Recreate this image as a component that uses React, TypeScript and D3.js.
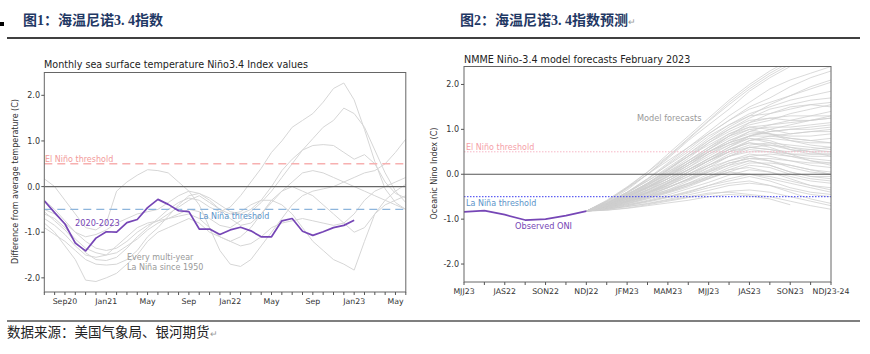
import React from 'react';
import * as d3 from 'd3';

// ---------- Left chart data (months from Jul 2020 = index 0) ----------
const leftTickIdx = [2, 6, 10, 14, 18, 22, 26, 30, 34];
const leftTickLabels = ['Sep20', 'Jan21', 'May', 'Sep', 'Jan22', 'May', 'Sep', 'Jan23', 'May'];
const leftYTicks = [-2, -1, 0, 1, 2];

const nino2020to2023 = [
  -0.31, -0.57, -0.82, -1.24, -1.41, -1.13, -0.99, -1.0, -0.79, -0.72, -0.46,
  -0.28, -0.39, -0.53, -0.55, -0.93, -0.93, -1.05, -0.95, -0.89, -0.97, -1.1,
  -1.1, -0.75, -0.7, -0.98, -1.07, -0.99, -0.9, -0.85, -0.74,
];

const multiYearLaNina = [
  [-0.55, -0.75, -0.95, -1.2, -1.45, -1.6, -1.62, -1.55, -1.35, -1.1, -0.9, -0.7, -0.5, -0.35, -0.25, -0.3, -0.45, -0.55, -0.45, -0.2, 0.1, 0.4, 0.75, 1.0, 1.3, 1.45, 1.6, 1.85, 2.15, 2.27, 1.9, 1.25, 0.55, -0.05, -0.35, -0.5],
  [-0.7, -0.85, -1.05, -1.3, -1.5, -1.55, -1.5, -1.3, -1.1, -0.9, -0.8, -0.75, -0.7, -0.6, -0.5, -0.55, -0.7, -0.85, -0.9, -0.75, -0.55, -0.35, -0.1, 0.2, 0.5, 0.8, 1.05, 1.3, 1.45, 1.72, 1.6, 1.3, 0.8, 0.3, -0.1, -0.35],
  [0.17, 0.0, -0.3, -0.6, -0.9, -0.95, -0.8, -0.1, 0.1, 0.25, 0.37, 0.35, 0.3, 0.1, -0.1, -0.4, -0.9, -1.4, -1.7, -1.75, -1.6, -1.3, -1.0, -0.7, -0.4, -0.2, -0.1, -0.05, 0.0, 0.1, 0.2, 0.3, 0.35, 0.5, 0.75, 1.04],
  [-0.8, -1.0, -1.3, -1.6, -2.05, -2.08, -2.0, -1.9, -1.7, -1.5, -1.2, -1.0, -0.9, -0.8, -0.7, -0.8, -1.0, -1.1, -1.2, -1.1, -0.9, -0.6, -0.3, -0.1, 0.0, -0.1, -0.2, -0.4, -0.6, -0.8, -1.0, -0.9, -0.6, -0.4, -0.3, -0.2],
  [-0.5, -0.6, -0.8, -1.0, -1.1, -1.05, -0.95, -0.8, -0.7, -0.6, -0.55, -0.5, -0.35, -0.2, -0.1, -0.15, -0.3, -0.5, -0.6, -0.55, -0.4, -0.3, -0.3, -0.4, -0.6, -0.9, -1.2, -1.4, -1.6, -1.7, -1.83, -1.2, -0.6, -0.3, -0.1, 0.05],
  [-0.6, -0.7, -0.9, -1.15, -1.35, -1.45, -1.5, -1.45, -1.3, -1.15, -0.95, -0.8, -0.7, -0.65, -0.6, -0.7, -0.9, -1.1, -1.2, -1.3, -1.25, -1.1, -0.9, -0.8, -0.75, -0.7, -0.75, -0.8, -0.85, -0.8, -0.6, -0.3, -0.1, 0.0, 0.1, 0.2],
  [-0.9, -1.05, -1.2, -1.4, -1.6, -1.7, -1.72, -1.7, -1.6, -1.4, -1.1, -0.9, -0.65, -0.4, -0.2, -0.15, -0.25, -0.4, -0.55, -0.6, -0.5, -0.3, 0.0, 0.35, 0.6, 0.8, 0.9, 0.92, 0.9, 0.75, 0.6, 0.7, 0.5, 0.1, -0.15, -0.25],
  [-0.3, -0.5, -0.75, -1.0, -1.2, -1.35, -1.4, -1.35, -1.2, -1.0, -0.85, -0.75, -0.6, -0.45, -0.3, -0.2, -0.35, -0.5, -0.7, -0.85, -0.8, -0.6, -0.35, -0.1, 0.1, 0.3, 0.35, 0.3, 0.2, 0.1, 0.0, -0.1, -0.2, -0.3, -0.4, -0.5],
];

// ---------- Right chart data (seasons from MJJ 2022 = index 0) ----------
const rightTickIdx = [0, 2, 4, 6, 8, 10, 12, 14, 16, 18];
const rightTickLabels = ['MJJ23', 'JAS22', 'SON22', 'NDJ22', 'JFM23', 'MAM23', 'MJJ23', 'JAS23', 'SON23', 'NDJ23-24'];
const rightYTicks = [-2, -1, 0, 1, 2];
const observedONI = [-0.84, -0.81, -0.9, -1.02, -1.0, -0.92, -0.82];
const forecastStart = 6;
const modelForecasts = [
  [-0.82, -0.6, -0.3, 0.05, 0.45, 0.85, 1.25, 1.65, 2.0, 2.3, 2.55, 2.7, 2.8],
  [-0.82, -0.62, -0.35, 0.0, 0.35, 0.75, 1.1, 1.45, 1.85, 2.15, 2.4, 2.55, 2.6],
  [-0.82, -0.65, -0.4, -0.1, 0.25, 0.6, 0.95, 1.3, 1.6, 1.9, 2.1, 2.25, 2.4],
  [-0.82, -0.6, -0.3, 0.0, 0.3, 0.6, 0.9, 1.2, 1.45, 1.6, 1.75, 1.9, 2.05],
  [-0.82, -0.66, -0.45, -0.2, 0.1, 0.45, 0.8, 1.1, 1.35, 1.5, 1.65, 1.75, 1.85],
  [-0.82, -0.7, -0.5, -0.25, 0.05, 0.35, 0.7, 1.0, 1.25, 1.45, 1.55, 1.65, 1.7],
  [-0.82, -0.64, -0.4, -0.1, 0.2, 0.5, 0.85, 1.1, 1.3, 1.35, 1.45, 1.55, 1.6],
  [-0.82, -0.68, -0.5, -0.3, -0.05, 0.25, 0.55, 0.85, 1.15, 1.35, 1.5, 1.55, 1.5],
  [-0.82, -0.7, -0.55, -0.35, -0.1, 0.2, 0.5, 0.75, 0.95, 1.1, 1.2, 1.3, 1.4],
  [-0.82, -0.72, -0.55, -0.35, -0.15, 0.1, 0.35, 0.6, 0.85, 1.0, 1.1, 1.2, 1.25],
  [-0.82, -0.66, -0.45, -0.2, 0.05, 0.3, 0.55, 0.8, 1.0, 1.05, 1.05, 1.1, 1.15],
  [-0.82, -0.7, -0.5, -0.3, -0.1, 0.15, 0.4, 0.65, 0.85, 0.95, 1.0, 1.0, 1.05],
  [-0.82, -0.68, -0.48, -0.28, -0.05, 0.2, 0.5, 0.75, 0.9, 0.9, 0.85, 0.85, 0.9],
  [-0.82, -0.74, -0.6, -0.45, -0.25, 0.0, 0.25, 0.5, 0.75, 0.85, 0.9, 0.95, 0.95],
  [-0.82, -0.7, -0.52, -0.32, -0.1, 0.15, 0.45, 0.7, 0.95, 0.9, 0.8, 0.75, 0.8],
  [-0.82, -0.72, -0.58, -0.4, -0.2, 0.05, 0.3, 0.55, 0.75, 0.8, 0.75, 0.7, 0.7],
  [-0.82, -0.66, -0.45, -0.25, 0.0, 0.3, 0.6, 0.85, 1.0, 0.9, 0.75, 0.65, 0.6],
  [-0.82, -0.7, -0.55, -0.38, -0.18, 0.05, 0.3, 0.5, 0.65, 0.7, 0.65, 0.6, 0.55],
  [-0.82, -0.74, -0.62, -0.48, -0.3, -0.1, 0.15, 0.4, 0.6, 0.65, 0.6, 0.55, 0.5],
  [-0.82, -0.68, -0.5, -0.3, -0.1, 0.1, 0.35, 0.6, 0.8, 0.7, 0.55, 0.45, 0.45],
  [-0.82, -0.72, -0.58, -0.42, -0.25, -0.05, 0.2, 0.45, 0.6, 0.55, 0.45, 0.4, 0.4],
  [-0.82, -0.7, -0.55, -0.4, -0.2, 0.0, 0.2, 0.4, 0.55, 0.5, 0.4, 0.35, 0.3],
  [-0.82, -0.75, -0.65, -0.52, -0.38, -0.2, 0.0, 0.2, 0.4, 0.45, 0.4, 0.3, 0.25],
  [-0.82, -0.68, -0.52, -0.35, -0.15, 0.1, 0.35, 0.55, 0.7, 0.6, 0.45, 0.3, 0.2],
  [-0.82, -0.72, -0.6, -0.45, -0.3, -0.1, 0.1, 0.3, 0.45, 0.4, 0.3, 0.2, 0.15],
  [-0.82, -0.74, -0.62, -0.5, -0.35, -0.15, 0.05, 0.25, 0.35, 0.3, 0.2, 0.1, 0.05],
  [-0.82, -0.7, -0.55, -0.4, -0.25, -0.05, 0.15, 0.3, 0.4, 0.3, 0.15, 0.05, 0.0],
  [-0.82, -0.76, -0.66, -0.55, -0.42, -0.28, -0.1, 0.1, 0.25, 0.25, 0.2, 0.1, 0.0],
  [-0.82, -0.74, -0.64, -0.52, -0.4, -0.25, -0.1, 0.05, 0.2, 0.15, 0.0, -0.1, -0.15],
  [-0.82, -0.76, -0.68, -0.58, -0.46, -0.32, -0.18, -0.02, 0.1, 0.05, -0.05, -0.15, -0.2],
  [-0.82, -0.72, -0.6, -0.48, -0.35, -0.2, -0.05, 0.1, 0.15, 0.05, -0.1, -0.25, -0.3],
  [-0.82, -0.78, -0.7, -0.6, -0.5, -0.4, -0.25, -0.1, 0.0, -0.05, -0.15, -0.25, -0.35],
  [-0.82, -0.76, -0.68, -0.6, -0.5, -0.38, -0.25, -0.15, -0.05, -0.15, -0.3, -0.4, -0.45],
  [-0.82, -0.78, -0.72, -0.65, -0.56, -0.46, -0.36, -0.25, -0.2, -0.25, -0.35, -0.45, -0.5],
  [-0.82, -0.8, -0.75, -0.68, -0.6, -0.52, -0.45, -0.38, -0.35, -0.4, -0.5, -0.6, -0.7],
  [-0.82, -0.78, -0.72, -0.66, -0.58, -0.5, -0.42, -0.4, -0.45, -0.5, -0.6, -0.7, -0.78],
  [-0.82, -0.8, -0.76, -0.7, -0.64, -0.58, -0.5, -0.45, -0.48, -0.55, -0.68],
  [-0.82, -0.74, -0.62, -0.5, -0.38, -0.22, -0.08, 0.05, 0.0, -0.1, -0.2, -0.3, -0.4],
  [-0.82, -0.7, -0.56, -0.42, -0.28, -0.12, 0.05, 0.2, 0.3, 0.2, 0.05, -0.05, -0.1],
  [-0.82, -0.66, -0.48, -0.28, -0.05, 0.2, 0.45, 0.65, 0.8, 0.75, 0.6, 0.5, 0.4],
  [-0.82, -0.64, -0.44, -0.22, 0.0, 0.25, 0.5, 0.7, 0.85, 0.95, 1.0, 1.05, 1.1],
  [-0.82, -0.62, -0.4, -0.15, 0.12, 0.4, 0.7, 0.95, 1.15, 1.25, 1.3, 1.3, 1.3],
  [-0.82, -0.68, -0.5, -0.28, -0.02, 0.25, 0.5, 0.7, 0.85, 0.85, 0.8, 0.75, 0.7],
  [-0.82, -0.72, -0.58, -0.42, -0.22, 0.0, 0.2, 0.4, 0.5, 0.5, 0.45, 0.45, 0.45],
  [-0.82, -0.74, -0.62, -0.48, -0.3, -0.12, 0.08, 0.25, 0.35, 0.35, 0.3, 0.25, 0.25],
  [-0.82, -0.58, -0.28, 0.05, 0.4, 0.8, 1.2, 1.6, 1.95, 2.25, 2.5, 2.6, 2.65],
  [-0.82, -0.64, -0.42, -0.15, 0.15, 0.45, 0.75, 1.05, 1.3, 1.55, 1.75, 1.95, 2.1],
  [-0.82, -0.6, -0.32, 0.0, 0.38, 0.78, 1.18, 1.55, 1.9, 2.2, 2.45, 2.6, 2.7],
  [-0.82, -0.66, -0.42, -0.12, 0.22, 0.55, 0.9, 1.2, 1.5, 1.7, 1.95, 2.15, 2.3],
  [-0.82, -0.7, -0.48, -0.22, 0.08, 0.4, 0.75, 1.0, 1.2, 1.25, 1.2, 1.2, 1.25],
  [-0.82, -0.72, -0.52, -0.3, -0.05, 0.25, 0.55, 0.85, 1.05, 1.0, 0.9, 0.95, 1.0],
  [-0.82, -0.68, -0.46, -0.2, 0.1, 0.4, 0.65, 0.9, 1.05, 1.1, 1.15, 1.2, 1.3],
  [-0.82, -0.74, -0.6, -0.42, -0.2, 0.05, 0.3, 0.55, 0.7, 0.65, 0.55, 0.5, 0.5],
  [-0.82, -0.7, -0.54, -0.36, -0.15, 0.1, 0.3, 0.5, 0.6, 0.55, 0.5, 0.55, 0.6],
  [-0.82, -0.76, -0.66, -0.54, -0.4, -0.25, -0.05, 0.15, 0.3, 0.2, 0.05, -0.05, -0.05],
  [-0.82, -0.78, -0.7, -0.62, -0.52, -0.42, -0.3, -0.2, -0.15, -0.25, -0.4, -0.55, -0.65],
  [-0.82, -0.66, -0.46, -0.24, 0.02, 0.3, 0.6, 0.9, 1.1, 1.2, 1.35, 1.45, 1.55],
];

const FONT = 'DejaVu Sans, sans-serif';
const CJK = 'Liberation Serif, Noto Sans CJK SC, serif';

export default function App() {
  // Left chart scales
  const xL = d3.scaleLinear().domain([0, 35]).range([44.3, 405.8]);
  const yL = d3.scaleLinear().domain([-2.31, 2.5]).range([292, 72.5]);
  // Right chart scales
  const xR = d3.scaleLinear().domain([0, 18]).range([464, 831]);
  const yR = d3.scaleLinear().domain([-2.4, 2.4]).range([282, 66.5]);

  const lineL = d3.line<number>().x((_, i) => xL(i)).y((d) => yL(d));
  const lineObs = d3.line<number>().x((_, i) => xR(i)).y((d) => yR(d));
  const lineFc = d3.line<number>().x((_, i) => xR(forecastStart + i)).y((d) => yR(d));

  const [lx0, lx1] = xL.range();
  const [ly0, ly1] = [yL(2.5), yL(-2.31)];
  const [rx0, rx1] = xR.range();
  const [ry0, ry1] = [yR(2.4), yR(-2.4)];

  return (
    <svg width={870} height={354} style={{ position: 'absolute', left: 0, top: 0, background: '#fff' }}>
      <defs>
        <clipPath id="clipL"><rect x={lx0} y={ly0} width={lx1 - lx0} height={ly1 - ly0} /></clipPath>
        <clipPath id="clipR"><rect x={rx0} y={ry0} width={rx1 - rx0} height={ry1 - ry0} /></clipPath>
      </defs>

      {/* Page headings */}
      <rect x={0} y={22} width={4} height={4} fill="#000" />
      <text x={23} y={25} fontFamily={CJK} fontWeight={700} fontSize={14} fill="#1f3864">图1：海温尼诺3. 4指数</text>
      <text x={460} y={25} fontFamily={CJK} fontWeight={700} fontSize={14} fill="#1f3864">
        图2：海温尼诺3. 4指数预测<tspan fill="#999" fontSize={9} fontWeight={400}>↵</tspan>
      </text>
      <line x1={7} x2={435} y1={38} y2={38} stroke="#000" strokeWidth={1.5} />
      <line x1={435} x2={860} y1={38} y2={38} stroke="#000" strokeWidth={1.5} />
      <line x1={7} x2={860} y1={321} y2={321} stroke="#000" strokeWidth={1.2} />
      <text x={7} y={337} fontFamily="Noto Sans CJK SC, sans-serif" fontSize={13.5} fill="#222">
        数据来源：美国气象局、银河期货<tspan fill="#999" fontSize={9}>↵</tspan>
      </text>

      {/* ---------------- Left chart ---------------- */}
      <text x={44} y={68} fontFamily={FONT} fontSize={9.6} fill="#222">Monthly sea surface temperature Niño3.4 Index values</text>
      <g clipPath="url(#clipL)">
        {multiYearLaNina.map((s, k) => (
          <path key={k} d={lineL(s) || ''} fill="none" stroke="#d6d6d6" strokeWidth={1} />
        ))}
        <line x1={lx0} x2={lx1} y1={yL(0.5)} y2={yL(0.5)} stroke="#f7b0b0" strokeWidth={1.4} strokeDasharray="8,5" />
        <line x1={lx0} x2={lx1} y1={yL(-0.5)} y2={yL(-0.5)} stroke="#8db5dc" strokeWidth={1.4} strokeDasharray="8,5" />
        <line x1={lx0} x2={lx1} y1={yL(0)} y2={yL(0)} stroke="#666" strokeWidth={1.2} />
        <path d={lineL(nino2020to2023) || ''} fill="none" stroke="#7646b6" strokeWidth={1.7} strokeLinejoin="round" />
      </g>
      <rect x={lx0} y={ly0} width={lx1 - lx0} height={ly1 - ly0} fill="none" stroke="#666" strokeWidth={1} />
      {leftYTicks.map((t) => (
        <g key={t}>
          <line x1={lx0 - 3} x2={lx0} y1={yL(t)} y2={yL(t)} stroke="#555" />
          <text x={40} y={yL(t) + 3} textAnchor="end" fontFamily={FONT} fontSize={8} fill="#333">{t.toFixed(1)}</text>
        </g>
      ))}
      {d3.range(36).map((i) => (
        <line key={i} x1={xL(i)} x2={xL(i)} y1={ly1} y2={ly1 + 3} stroke="#555" />
      ))}
      {leftTickIdx.map((idx, k) => (
        <text key={k} x={xL(idx)} y={303.5} textAnchor="middle" fontFamily={FONT} fontSize={7.8} fill="#333">{leftTickLabels[k]}</text>
      ))}
      <text transform="translate(17.7,181.5) rotate(-90)" textAnchor="middle" fontFamily={FONT} fontSize={8} fill="#333">Difference from average temperature (C)</text>
      <text x={45} y={162} fontFamily={FONT} fontSize={8} fill="#f29a9a">El Niño threshold</text>
      <text x={199} y={218.5} fontFamily={FONT} fontSize={8} fill="#5b93c9">La Niña threshold</text>
      <text x={75} y={226} fontFamily={FONT} fontSize={8.2} fill="#7646b6">2020-2023</text>
      <text x={127} y={260} fontFamily={FONT} fontSize={8} fill="#999">Every multi-year</text>
      <text x={127} y={269.5} fontFamily={FONT} fontSize={8} fill="#999">La Niña since 1950</text>

      {/* ---------------- Right chart ---------------- */}
      <text x={464} y={62.5} fontFamily={FONT} fontSize={9.6} fill="#222">NMME Niño-3.4 model forecasts February 2023</text>
      <g clipPath="url(#clipR)">
        {modelForecasts.map((s, k) => (
          <path key={k} d={lineFc(s) || ''} fill="none" stroke="#cfcfcf" strokeOpacity={0.85} strokeWidth={0.9} />
        ))}
        <line x1={rx0} x2={rx1} y1={yR(0.5)} y2={yR(0.5)} stroke="#f7b7c7" strokeWidth={1} strokeDasharray="1.5,1.5" />
        <line x1={rx0} x2={rx1} y1={yR(-0.5)} y2={yR(-0.5)} stroke="#3a3af0" strokeWidth={1} strokeDasharray="1.5,1.5" />
        <line x1={rx0} x2={rx1} y1={yR(0)} y2={yR(0)} stroke="#555" strokeWidth={1} />
        <path d={lineObs(observedONI) || ''} fill="none" stroke="#7646b6" strokeWidth={1.7} strokeLinejoin="round" />
      </g>
      <rect x={rx0} y={ry0} width={rx1 - rx0} height={ry1 - ry0} fill="none" stroke="#666" strokeWidth={1} />
      {rightYTicks.map((t) => (
        <g key={t}>
          <line x1={rx0 - 3} x2={rx0} y1={yR(t)} y2={yR(t)} stroke="#555" />
          <text x={459} y={yR(t) + 3} textAnchor="end" fontFamily={FONT} fontSize={8} fill="#333">{t.toFixed(1)}</text>
        </g>
      ))}
      {d3.range(19).map((i) => (
        <line key={i} x1={xR(i)} x2={xR(i)} y1={ry1} y2={ry1 + 3} stroke="#555" />
      ))}
      {rightTickIdx.map((idx, k) => (
        <text key={k} x={xR(idx)} y={293.5} textAnchor="middle" fontFamily={FONT} fontSize={7.8} fill="#333">{rightTickLabels[k]}</text>
      ))}
      <text transform="translate(437,173.5) rotate(-90)" textAnchor="middle" fontFamily={FONT} fontSize={8} fill="#333">Oceanic Nino Index (C)</text>
      <text x={466} y={150} fontFamily={FONT} fontSize={8} fill="#f5a0a8">El Niño threshold</text>
      <text x={466} y={206} fontFamily={FONT} fontSize={8} fill="#5b93c9">La Niña threshold</text>
      <text x={515} y={229} fontFamily={FONT} fontSize={8.2} fill="#7646b6">Observed ONI</text>
      <text x={637} y={121} fontFamily={FONT} fontSize={8.2} fill="#999">Model forecasts</text>
    </svg>
  );
}
